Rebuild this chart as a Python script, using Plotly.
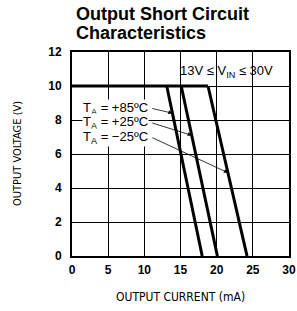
import plotly.graph_objects as go

# Data: output voltage vs output current (mA)
temps = ["+85", "+25", "-25"]
knee_current = [13.1, 15.1, 18.8]   # current where voltage starts to drop (V=10)
zero_current = [18.0, 20.1, 24.2]   # current at V=0
v_high = 10
v_low = 0
label_v = [8.7, 7.85, 7.0]          # label vertical positions
arrow_tip_v = [8.4, 7.1, 4.9]       # where arrows meet the curves
x_ticks = [0, 5, 10, 15, 20, 25, 30]
y_ticks = [0, 2, 4, 6, 8, 10, 12]
title_lines = ["Output Short Circuit", "Characteristics"]

fig = go.Figure()

# common horizontal limit at 10 V
fig.add_trace(go.Scatter(x=[0, max(knee_current)], y=[v_high, v_high], mode="lines",
                         line=dict(color="black", width=3), showlegend=False))
for k, z in zip(knee_current, zero_current):
    fig.add_trace(go.Scatter(x=[k, z], y=[v_high, v_low], mode="lines",
                             line=dict(color="black", width=3), showlegend=False))

ann = []
for t, lv, tv, k, z in zip(temps, label_v, arrow_tip_v, knee_current, zero_current):
    tip_x = k + (v_high - tv) / (v_high - v_low) * (z - k)
    ann.append(dict(x=tip_x, y=tv, xref="x", yref="y", ax=10.9, ay=lv, axref="x", ayref="y",
                    text="", showarrow=True, arrowhead=2, arrowsize=1, arrowwidth=0.8,
                    arrowcolor="black"))
    ann.append(dict(x=1.4, y=lv, xref="x", yref="y", xanchor="left", yanchor="middle",
                    text="T<sub>A</sub> = " + t.replace("-", "\u2212") + "\u00baC", showarrow=False,
                    bgcolor="white", borderpad=0,
                    font=dict(family="Liberation Sans", size=13, color="black")))
ann.append(dict(x=21.4, y=10.85, xref="x", yref="y", showarrow=False,
                text="13V \u2264 V<sub>IN</sub> \u2264 30V",
                font=dict(family="Liberation Sans", size=13, color="black")))
for line, shift in zip(title_lines, [38, 19]):
    ann.append(dict(x=0, y=1, xref="paper", yref="paper", xanchor="left", yanchor="middle",
                    xshift=2, yshift=shift, showarrow=False, text="<b>" + line + "</b>",
                    font=dict(family="Liberation Sans", size=18, color="black")))
ann.append(dict(x=0.5, y=0, xref="paper", yref="paper", xanchor="center", yanchor="middle",
                yshift=-41, showarrow=False, text="OUTPUT CURRENT (mA)",
                font=dict(family="DejaVu Sans Condensed", size=12, color="black")))
ann.append(dict(x=0, y=0.5, xref="paper", yref="paper", xanchor="center", yanchor="middle",
                xshift=-55, showarrow=False, text="OUTPUT VOLTAGE (V)", textangle=-90,
                font=dict(family="DejaVu Sans Condensed", size=11, color="black")))

fig.update_layout(
    width=297, height=311,
    margin=dict(l=72, r=8, t=52, b=55),
    plot_bgcolor="white", paper_bgcolor="white",
    annotations=ann,
    xaxis=dict(range=[0, 30], tickvals=x_ticks, showgrid=True, gridcolor="black", gridwidth=0.6,
               showline=True, linecolor="black", linewidth=2, mirror=True, zeroline=False,
               automargin=False, ticks="", ticklabelstandoff=2,
               tickfont=dict(family="Liberation Sans", size=12, color="black", weight="bold")),
    yaxis=dict(range=[0, 12], tickvals=y_ticks, showgrid=True, gridcolor="black", gridwidth=0.6,
               showline=True, linecolor="black", linewidth=2, mirror=True, zeroline=False,
               automargin=False, ticks="", ticklabelstandoff=6,
               tickfont=dict(family="Liberation Sans", size=12, color="black", weight="bold")),
)

fig.write_html("out.html", config={"displayModeBar": False},
               post_script="document.body.style.margin='0';document.body.style.overflow='hidden';")
